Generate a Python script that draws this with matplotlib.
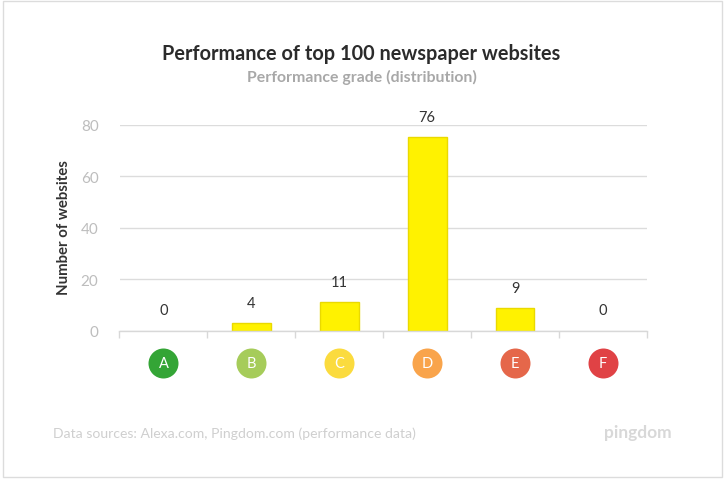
#!/usr/bin/python3

import matplotlib
matplotlib.use("Agg")
import matplotlib.pyplot as plt
from matplotlib.patches import Rectangle
from matplotlib.transforms import ScaledTranslation
import numpy as np

grades = ["A", "B", "C", "D", "E", "F"]
bar_heights = [0, 2.9, 11.1, 75.5, 8.8, 0]  # as drawn, the B bar is shorter than its label says
bar_labels = ["0", "4", "11", "76", "9", "0"]
grade_colors = ["#34a536", "#a6cc5a", "#fbdb3e", "#f9a44b", "#e5674a", "#e04245"]
y_ticks = [0, 20, 40, 60, 80]

W, H = 725, 481
PX = 72 / 100  # points per pixel

plt.rcParams["font.family"] = ["Lato", "DejaVu Sans"]

fig = plt.figure(figsize=(W / 100, H / 100), dpi=100)
fig.patch.set_facecolor("white")

# outer card border
fig.add_artist(Rectangle((2.5 / W, 1 - 477.5 / H), 719.5 / W, 475.5 / H, transform=fig.transFigure,
                         facecolor="white", edgecolor="#dcdcdc", linewidth=1.0, zorder=-1))

left, right, top, bottom = 119.5, 647, 126, 331.5
ax = fig.add_axes([left / W, 1 - bottom / H, (right - left) / W, (bottom - top) / H])
ax.patch.set_alpha(0)
x = np.arange(len(grades))
ax.set_xlim(-0.5, 5.5)
ax.set_ylim(0, 80)

ax.yaxis.grid(True, color="#dcdcdc", linewidth=1.0)
ax.set_axisbelow(True)
for s in ["top", "right", "left"]:
    ax.spines[s].set_visible(False)
ax.spines["bottom"].set_color("#d8d8d8")
ax.spines["bottom"].set_linewidth(1.0)

# zero bars get no outline, otherwise a faint yellow line shows on the axis
edge_colors = ["#ead900" if h > 0 else "none" for h in bar_heights]
ax.bar(x, bar_heights, width=0.44, color="#fff200", edgecolor=edge_colors, linewidth=1.0)

for xi, h, lab in zip(x, bar_heights, bar_labels):
    ax.annotate(lab, (xi, h), xytext=(0, 20 * PX), textcoords="offset points", ha="center", va="center",
                fontsize=10.5, color="#333333", annotation_clip=False)

# grade badges under the axis
badge_trans = ax.get_xaxis_transform() + ScaledTranslation(0, -32.5 / 100, fig.dpi_scale_trans)
for xi, g, c in zip(x, grades, grade_colors):
    ax.plot([xi], [0], marker="o", markersize=30 * PX, color=c, markeredgewidth=0, clip_on=False,
            transform=badge_trans, zorder=3)
    ax.text(xi, 0, g, transform=badge_trans, ha="center", va="center", fontsize=10.5, color="white", zorder=4)

ax.set_xticks(list(x - 0.5) + [5.5])
ax.set_xticklabels([])
ax.tick_params(axis="x", length=7 * PX, color="#d8d8d8", width=1.0)
ax.set_yticks(y_ticks)
ax.tick_params(axis="y", length=0, pad=21 * PX, labelsize=11, labelcolor="#bdbdbd")

fig.text(63.5 / W, 1 - 228 / H, "Number of websites", rotation=90, ha="center", va="center",
         fontsize=10.8, fontweight="bold", color="#333333")

fig.text(361.5 / W, 1 - 54.5 / H, "Performance of top 100 newspaper websites", ha="center", va="center",
         fontsize=14.3, fontweight="bold", color="#2b2b2b")
fig.text(362 / W, 1 - 77 / H, "Performance grade (distribution)", ha="center", va="center",
         fontsize=11.4, fontweight="bold", color="#a8a8a8")

fig.text(53 / W, 1 - 434 / H, "Data sources: Alexa.com, Pingdom.com (performance data)", ha="left", va="center",
         fontsize=10.05, color="#cfcfcf")
fig.text(637.5 / W, 1 - 433 / H, "pingdom", ha="center", va="center",
         fontsize=12.5, fontweight="bold", color="#d8d8d8")

fig.savefig("out.png", dpi=100)
